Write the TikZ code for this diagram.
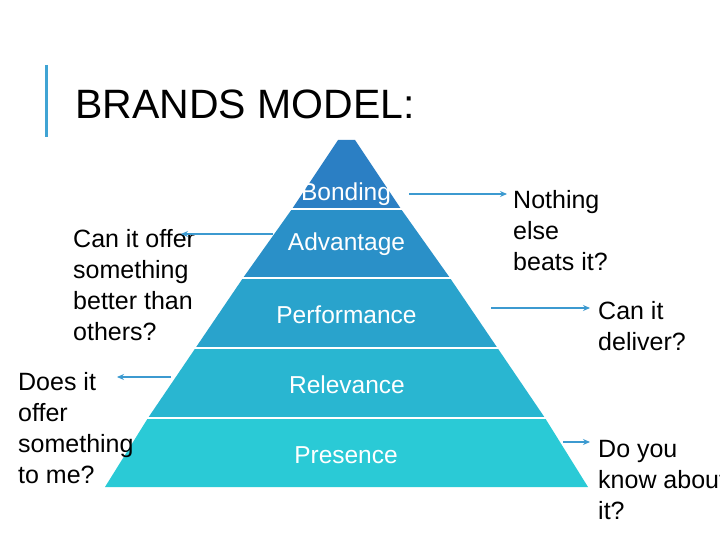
\documentclass[tikz,border=0pt]{standalone}
\usepackage{fontspec}
\setmainfont{Liberation Sans}
\usepackage{xcolor}
\usetikzlibrary{arrows.meta}

\definecolor{bandA}{HTML}{2B7FC4}
\definecolor{bandB}{HTML}{2A90C8}
\definecolor{bandC}{HTML}{29A3CC}
\definecolor{bandD}{HTML}{29B6D1}
\definecolor{bandE}{HTML}{2ACAD6}
\definecolor{arrblue}{HTML}{3C9AD0}
\definecolor{barblue}{HTML}{40A4D4}

\begin{document}
\begin{tikzpicture}[x=1pt,y=-1pt,
  bandlabel/.style={anchor=base,inner sep=0pt,text=white,font=\fontsize{24.5}{31}\selectfont},
  question/.style={anchor=base west,inner sep=0pt,align=left,font=\fontsize{25}{31}\selectfont},
  arr/.style={draw=arrblue,line width=1.8pt,-{Stealth[length=7pt,width=6pt]}}]

\useasboundingbox[fill=white] (0,0) rectangle (720,540);

% title:
\draw[barblue,line width=3pt] (46,65) coordinate(bartop) -- (46,137) coordinate(barbot);
\node[anchor=base west,inner sep=0pt,font=\fontsize{41}{49}\selectfont] (title) at (75,119) {BRANDS MODEL:};

% pyramid bands:
\fill[bandA] (338,140) -- (355,140) -- (401,209) -- (292,209) -- cycle;
\fill[bandB] (292,209) -- (401,209) -- (450,278) -- (243,278) -- cycle;
\fill[bandC] (243,278) -- (450,278) -- (497.5,348) -- (195.5,348) -- cycle;
\fill[bandD] (195.5,348) -- (497.5,348) -- (545,418) -- (148,418) -- cycle;
\fill[bandE] (148,418) -- (545,418) -- (588,487) -- (105,487) -- cycle;

% white gaps:
\draw[white,line width=2.5pt] (285,209) -- (410,209);
\draw[white,line width=2.5pt] (236,278) -- (457,278);
\draw[white,line width=2.5pt] (188,348) -- (505,348);
\draw[white,line width=2.5pt] (140,418) -- (553,418);

\node[bandlabel] (bonding) at (346,201) {Bonding};
\node[bandlabel] (advantage) at (346.5,251) {Advantage};
\node[bandlabel] (performance) at (346.5,323) {Performance};
\node[bandlabel] (relevance) at (347,393) {Relevance};
\node[bandlabel] (presence) at (346,463) {Presence};

% questions (anchored at the last line):
\node[question] (qbetter) at (73,340) {Can it offer\\something\\better than\\others?};
\node[question] (qme) at (18,483) {Does it\\offer\\something\\to me?};
\node[question] (qbeats) at (513,270) {Nothing\\else\\beats it?};
\node[question] (qdeliver) at (598,350) {Can it\\deliver?};
\node[question] (qknow) at (598,519) {Do you\\know about\\it?};

% arrows:
\coordinate (bondR) at (409,194);   \coordinate (bondT) at (507,194);
\coordinate (advL) at (273,234);    \coordinate (advT) at (181,234);
\coordinate (perfR) at (491,308);   \coordinate (perfT) at (590,308);
\coordinate (relL) at (171,377);    \coordinate (relT) at (117,377);
\coordinate (presR) at (563,442);   \coordinate (presT) at (590,442);

\draw[arr] (bondR) -- (bondT);
\draw[arr] (advL) -- (advT);
\draw[arr] (perfR) -- (perfT);
\draw[arr] (relL) -- (relT);
\draw[arr] (presR) -- (presT);

\end{tikzpicture}
\end{document}
